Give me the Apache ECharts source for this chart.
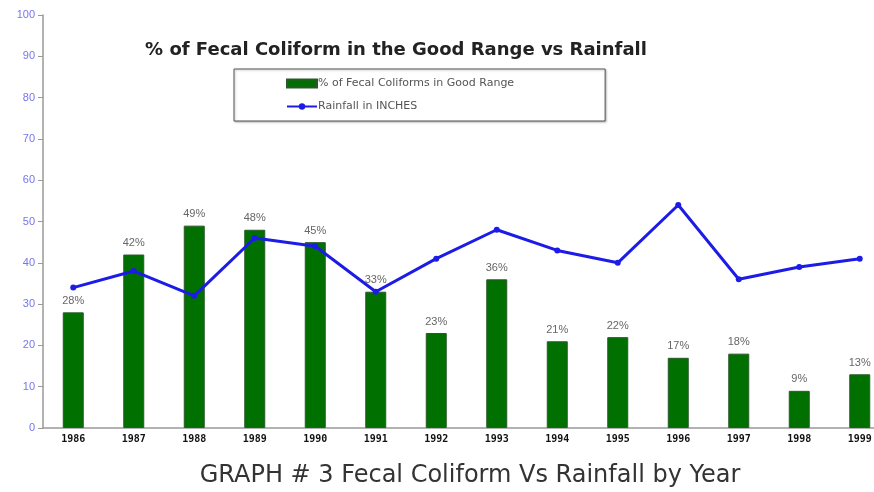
<!DOCTYPE html>
<html>
<head>
<meta charset="utf-8">
<script src="https://cdn.jsdelivr.net/npm/echarts@6/dist/echarts.min.js"></script>
<style>
  html, body { margin: 0; padding: 0; background: #fff; overflow: hidden; }
  /* the plot runs a little past the right edge of the window, like the original */
  #chart { width: 890px; height: 492px; }
</style>
</head>
<body>
<div id="chart"></div>
<script>
// 年份
var years = ["1986", "1987", "1988", "1989", "1990", "1991", "1992", "1993", "1994", "1995", "1996", "1997", "1998", "1999"];
// % of fecal coliforms in good range
var goodRange = [28, 42, 49, 48, 45, 33, 23, 36, 21, 22, 17, 18, 9, 13];
// rainfall in inches
var rainfall = [34, 38, 32, 46, 44, 33, 41, 48, 43, 40, 54, 36, 39, 41];
var yTicks = [0, 100, 10];

var myChart = echarts.init(document.getElementById("chart"));

myChart.setOption({
  backgroundColor: "#fff",
  animation: false,
  title: [
    {
      text: "% of Fecal Coliform in the Good Range vs Rainfall",
      left: 391,
      top: 36,
      textAlign: "center",
      textStyle: { fontFamily: "DejaVu Sans", fontSize: 18, fontWeight: "bold", color: "#222" }
    },
    {
      text: "GRAPH # 3 Fecal Coliform Vs Rainfall by Year",
      left: 465,
      top: 459,
      textAlign: "center",
      textStyle: { fontFamily: "DejaVu Sans", fontSize: 24, fontWeight: "normal", color: "#333" }
    }
  ],
  legend: {
    orient: "vertical",
    left: 234,
    top: 69,
    padding: [9, 91, 9, 52],
    itemGap: 12,
    itemWidth: 30,
    itemHeight: 8,
    borderColor: "#555",
    borderWidth: 1,
    shadowColor: "rgba(0,0,0,0.25)",
    shadowBlur: 2,
    shadowOffsetX: 1,
    shadowOffsetY: 1,
    backgroundColor: "#fff",
    textStyle: { fontFamily: "DejaVu Sans", fontSize: 11, color: "#555", padding: [0, 0, 0, -4] },
    data: [
      { name: "% of Fecal Coliforms in Good Range", icon: "rect" },
      { name: "Rainfall in INCHES" }
    ]
  },
  grid: { left: 43, right: 0, top: 15, bottom: 64, containLabel: false },
  xAxis: {
    type: "category",
    data: years,
    boundaryGap: true,
    axisLine: { lineStyle: { color: "#999", width: 1.5 } },
    axisTick: { show: false },
    axisLabel: { color: "#111", fontFamily: "DejaVu Sans Mono", fontWeight: "bold", fontSize: 10, margin: 6 }
  },
  yAxis: {
    type: "value",
    min: yTicks[0],
    max: yTicks[1],
    interval: yTicks[2],
    axisLine: { show: true, lineStyle: { color: "#999", width: 1.5 } },
    axisTick: { show: true, length: 5, lineStyle: { color: "#999" } },
    splitLine: { show: false },
    axisLabel: { color: "#7575ee", fontFamily: "Liberation Sans", fontSize: 11, margin: 8 }
  },
  series: [
    {
      name: "% of Fecal Coliforms in Good Range",
      type: "bar",
      data: goodRange,
      barWidth: 21,
      itemStyle: { color: "#007000", borderColor: "#2a5a2a", borderWidth: 1 },
      label: {
        show: true,
        position: "top",
        distance: 6,
        formatter: "{c}%",
        color: "#666",
        fontFamily: "Liberation Sans",
        fontSize: 11
      },
      z: 2
    },
    {
      name: "Rainfall in INCHES",
      type: "line",
      data: rainfall,
      symbol: "circle",
      symbolSize: 6,
      lineStyle: { color: "#1c1ce6", width: 3 },
      itemStyle: { color: "#1c1ce6" },
      z: 3
    }
  ]
});
</script>
</body>
</html>
